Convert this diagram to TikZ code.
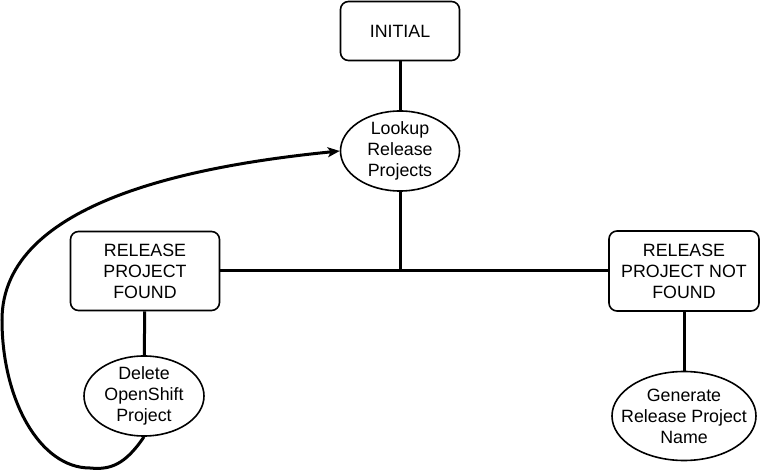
\documentclass[tikz,border=0pt]{standalone}
\usepackage{fontspec}
\setmainfont{Liberation Sans}
\usetikzlibrary{shapes.geometric,arrows.meta}
\begin{document}
\begin{tikzpicture}[x=1pt,y=-1pt,
  box/.style={draw,line width=1.6pt,rounded corners=8pt,inner sep=0pt,align=center},
  ell/.style={draw,ellipse,line width=1.6pt,inner sep=0pt},
  txt/.style={align=center,inner sep=0pt,font=\fontsize{17.8}{21}\selectfont},
  conn/.style={line width=3pt}]
\useasboundingbox (0,0) rectangle (761,470);
\node[box,txt,minimum width=119pt,minimum height=59pt] (init) at (400,31) {INITIAL};
\node[ell,minimum width=119pt,minimum height=80pt] (look) at (400,151) {};
\node[txt] (lookt) at (look) {Lookup\\Release\\Projects};
\node[box,txt,minimum width=149pt,minimum height=79pt] (found) at (145,271) {RELEASE\\PROJECT\\FOUND};
\node[box,txt,minimum width=150pt,minimum height=80pt] (notfound) at (684,271) {RELEASE\\PROJECT NOT\\FOUND};
\node[ell,minimum width=120pt,minimum height=80pt] (del) at (144,396) {};
\node[txt] (delt) at (del) {Delete\\OpenShift\\Project};
\node[ell,minimum width=144pt,minimum height=89pt] (gen) at (684,416) {};
\node[txt] (gent) at (gen) {Generate\\Release Project\\Name};
\coordinate (junc) at (look.south |- found.east);
\draw[conn] (init) -- (look);
\draw[conn] (look.south) -- (junc);
\draw[conn] (found.east) -- (notfound.west);
\draw[conn] (found) -- (del);
\draw[conn] (notfound) -- (gen);
\draw[conn,-{Stealth[length=12pt,width=10pt,inset=3pt]}] (del.south) .. controls (125,465) and (110,470) .. (90,468)
  .. controls (40,468) and (2,400) .. (2,320)
  .. controls (2,200) and (200,165) .. (look.west);
\end{tikzpicture}
\end{document}
